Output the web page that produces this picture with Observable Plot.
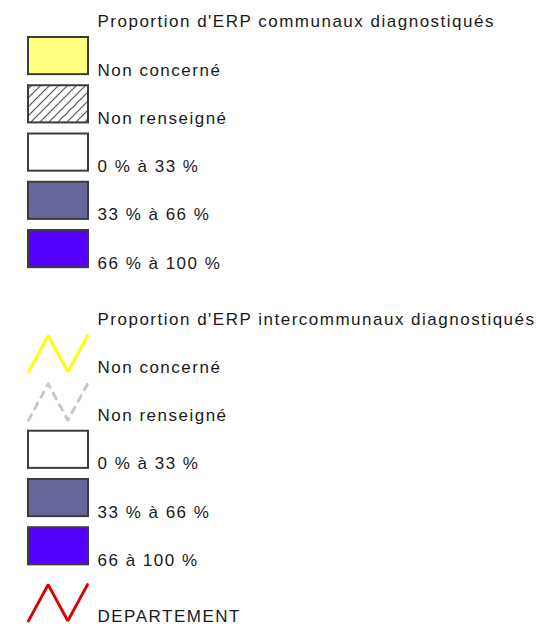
<!DOCTYPE html>
<html><head><meta charset="utf-8">
<script src="https://cdn.jsdelivr.net/npm/d3@7"></script>
<script src="https://cdn.jsdelivr.net/npm/@observablehq/plot@0.6"></script>
<style>html,body{margin:0;padding:0;background:#fff;overflow:hidden}</style>
</head><body><div id="chart"></div>
<script>
// ---- legend content ----
const groupTitles = ["Proportion d'ERP communaux diagnostiqués", "Proportion d'ERP intercommunaux diagnostiqués"];
const communauxLabels = ["Non concerné", "Non renseigné", "0 % à 33 %", "33 % à 66 %", "66 % à 100 %"];
const communauxSymbols = ["fill", "hatch", "fill", "fill", "fill"];
const communauxColors = ["#ffff80", "#ffffff", "#ffffff", "#666699", "#5500ff"];
const interLabels = ["Non concerné", "Non renseigné", "0 % à 33 %", "33 % à 66 %", "66 à 100 %"];
const interSymbols = ["line", "dash", "fill", "fill", "fill"];
const interColors = ["#ffff00", "#c8c8c8", "#ffffff", "#666699", "#5500ff"];
const limitLabels = ["DEPARTEMENT"];
const limitSymbols = ["line"];
const limitColors = ["#dd0000"];

// ---- layout (rows) ----
const W = 552, H = 633;
const ROW_PX = 48.25;
const rows = [];
let r = 0;
rows.push({row: r, label: groupTitles[0], kind: "title"});
communauxLabels.forEach((l, i) => rows.push({row: ++r, label: l, kind: communauxSymbols[i], color: communauxColors[i]}));
r += 1.16;
rows.push({row: r, label: groupTitles[1], kind: "title"});
interLabels.forEach((l, i) => rows.push({row: ++r, label: l, kind: interSymbols[i], color: interColors[i]}));
r += 1.16;
limitLabels.forEach((l, i) => rows.push({row: r, label: l, kind: limitSymbols[i], color: limitColors[i]}));

const SW_X1 = 28, SW_X2 = 88, LABEL_X = 97, SW_H = 0.77, BASE = 0.79;
const y0 = 11.25 / ROW_PX;

const boxes = rows.filter(d => d.kind === "fill" || d.kind === "hatch")
  .map(d => ({...d, paint: d.kind === "hatch" ? "url(#hatch)" : d.color}));
const zig = (d) => [0, 1, 0, 1].map((v, j) => ({
  id: d.label + d.row, color: d.color,
  x: SW_X1 + (SW_X2 - 1 - SW_X1) * j / 3,
  y: d.row + 0.02 + (v ? 0 : SW_H - 0.02)
}));
const solidLines = rows.filter(d => d.kind === "line").flatMap(zig);
const dashLines = rows.filter(d => d.kind === "dash").flatMap(zig);

const chart = Plot.plot({
  width: W, height: H,
  margin: 0,
  x: {type: "linear", domain: [0, W], range: [0, W], axis: null},
  y: {type: "linear", domain: [y0, y0 + H / ROW_PX], range: [0, H], axis: null},
  color: {type: "identity"},
  style: {fontFamily: "'Liberation Sans', Arial, sans-serif", letterSpacing: "1.5px", background: "#fff"},
  marks: [
    Plot.rect(boxes, {x1: SW_X1, x2: SW_X2, y1: "row", y2: d => d.row + SW_H, fill: "paint", stroke: "#3c3c3c", strokeWidth: 2}),
    Plot.line(solidLines, {x: "x", y: "y", z: "id", stroke: "color", strokeWidth: 3, strokeLinejoin: "miter", curve: "linear"}),
    Plot.line(dashLines, {x: "x", y: "y", z: "id", stroke: "color", strokeWidth: 3, strokeDasharray: "6,7", curve: "linear"}),
    Plot.text(rows, {x: LABEL_X, y: d => d.row + BASE, text: "label", textAnchor: "start", lineAnchor: "bottom", fontSize: 17, fill: "#1a1a1a"})
  ]
});

// hatch pattern for "Non renseigné"
const defs = d3.select(chart).insert("defs", ":first-child");
const pat = defs.append("pattern").attr("id", "hatch").attr("patternUnits", "userSpaceOnUse")
  .attr("width", 9).attr("height", 9);
pat.append("rect").attr("width", 9).attr("height", 9).attr("fill", "#fff");
pat.append("path").attr("d", "M0,9 L9,0 M-2,2 L2,-2 M7,11 L11,7").attr("stroke", "#555").attr("stroke-width", 1.2);

document.getElementById("chart").appendChild(chart);
</script>
</body></html>
